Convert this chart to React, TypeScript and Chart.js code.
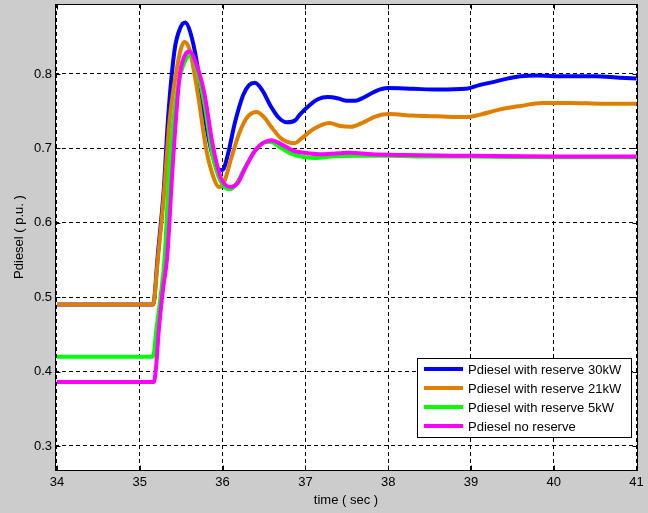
import React, { useEffect, useRef } from "react";
import { Chart, registerables } from "chart.js";

Chart.register(...registerables);

const FONT = "Arial, 'Liberation Sans', sans-serif";

const seriesLabels = [
  "Pdiesel with reserve 30kW",
  "Pdiesel with reserve 21kW",
  "Pdiesel with reserve 5kW",
  "Pdiesel no reserve",
];
const seriesColors = ["#0000ff", "#df7f00", "#00ff00", "#ff00ff"];

const blueT = [34, 35.16, 35.22, 35.29, 35.34, 35.42, 35.49, 35.55, 35.61, 35.69, 35.78, 35.88, 35.95, 36.0, 36.06, 36.15, 36.25, 36.32, 36.39, 36.48, 36.58, 36.68, 36.78, 36.88, 36.93, 37.05, 37.15, 37.27, 37.4, 37.5, 37.6, 37.7, 37.85, 38.0, 38.3, 38.6, 38.94, 39.1, 39.3, 39.45, 39.6, 39.8, 40.0, 40.5, 40.8, 41.0];
const blueV = [0.49, 0.49, 0.56, 0.645, 0.738, 0.832, 0.862, 0.869, 0.856, 0.815, 0.745, 0.69, 0.672, 0.671, 0.69, 0.735, 0.772, 0.785, 0.788, 0.778, 0.757, 0.741, 0.735, 0.738, 0.745, 0.758, 0.766, 0.769, 0.767, 0.764, 0.764, 0.768, 0.777, 0.781, 0.78, 0.779, 0.78, 0.785, 0.79, 0.794, 0.797, 0.798, 0.797, 0.797, 0.795, 0.794];

const orangeT = [34, 35.16, 35.22, 35.29, 35.34, 35.36, 35.45, 35.5, 35.54, 35.6, 35.7, 35.8, 35.9, 35.96, 36.02, 36.1, 36.2, 36.3, 36.41, 36.5, 36.6, 36.7, 36.8, 36.87, 36.95, 37.1, 37.29, 37.42, 37.55, 37.7, 37.85, 38.01, 38.3, 38.6, 38.94, 39.1, 39.34, 39.6, 39.86, 40.2, 40.6, 41.0];
const orangeV = [0.49, 0.49, 0.553, 0.635, 0.711, 0.738, 0.809, 0.835, 0.843, 0.833, 0.774, 0.7, 0.658, 0.648, 0.655, 0.685, 0.72, 0.742, 0.749, 0.742, 0.727, 0.714, 0.708, 0.707, 0.713, 0.726, 0.734, 0.73, 0.729, 0.735, 0.743, 0.746, 0.744, 0.743, 0.742, 0.745, 0.752, 0.757, 0.761, 0.761, 0.76, 0.76];

const greenT = [34, 35.16, 35.2, 35.25, 35.3, 35.36, 35.46, 35.55, 35.62, 35.68, 35.78, 35.88, 35.98, 36.08, 36.16, 36.26, 36.38, 36.48, 36.58, 36.7, 36.85, 37.0, 37.13, 37.3, 37.6, 38.0, 38.5, 39.0, 40.0, 41.0];
const greenV = [0.42, 0.42, 0.456, 0.5, 0.553, 0.68, 0.783, 0.818, 0.826, 0.81, 0.76, 0.69, 0.655, 0.645, 0.651, 0.672, 0.695, 0.707, 0.709, 0.701, 0.692, 0.688, 0.687, 0.689, 0.69, 0.69, 0.689, 0.689, 0.688, 0.688];

const magentaT = [34, 35.17, 35.2, 35.23, 35.28, 35.33, 35.4, 35.48, 35.55, 35.6, 35.66, 35.78, 35.88, 35.98, 36.1, 36.18, 36.28, 36.4, 36.5, 36.59, 36.7, 36.85, 36.99, 37.2, 37.53, 37.8, 38.2, 39.0, 40.0, 41.0];
const magentaV = [0.386, 0.386, 0.41, 0.456, 0.51, 0.553, 0.68, 0.796, 0.826, 0.83, 0.82, 0.774, 0.705, 0.66, 0.648, 0.653, 0.675, 0.698, 0.708, 0.711, 0.706, 0.697, 0.694, 0.692, 0.694, 0.692, 0.691, 0.69, 0.689, 0.689];

const xTicks = [34, 35, 36, 37, 38, 39, 40, 41];
const yTicks = [0.3, 0.4, 0.5, 0.6, 0.7, 0.8];
const xLabel = "time ( sec )";
const yLabel = "Pdiesel ( p.u. )";

const seriesT = [blueT, orangeT, greenT, magentaT];
const seriesV = [blueV, orangeV, greenV, magentaV];
const drawOrder = [4, 3, 2, 1];

const framePlugin = {
  id: "matlabFrame",
  beforeDraw(chart: any) {
    const { ctx, chartArea: a } = chart;
    ctx.save();
    ctx.fillStyle = "#ffffff";
    ctx.fillRect(a.left, a.top, a.right - a.left, a.bottom - a.top);
    ctx.restore();
  },
  afterDatasetsDraw(chart: any) {
    const { ctx, chartArea: a, scales } = chart;
    const L = Math.round(a.left) + 0.5;
    const R = Math.round(a.right) + 0.5;
    const T = Math.round(a.top) + 0.5;
    const B = Math.round(a.bottom) + 0.5;
    ctx.save();
    ctx.strokeStyle = "#000";
    ctx.lineWidth = 1;
    ctx.setLineDash([]);
    ctx.strokeRect(L, T, R - L, B - T);
    const tl = 5;
    ctx.beginPath();
    xTicks.forEach((v) => {
      const px = Math.round(scales.x.getPixelForValue(v)) + 0.5;
      ctx.moveTo(px, B);
      ctx.lineTo(px, B - tl);
      ctx.moveTo(px, T);
      ctx.lineTo(px, T + tl);
    });
    yTicks.forEach((v) => {
      const py = Math.round(scales.y.getPixelForValue(v)) + 0.5;
      ctx.moveTo(L, py);
      ctx.lineTo(L + tl, py);
      ctx.moveTo(R, py);
      ctx.lineTo(R - tl, py);
    });
    ctx.stroke();
    ctx.restore();
  },
  afterDraw(chart: any) {
    const { ctx, chartArea: a } = chart;
    const ds = chart.data.datasets;
    ctx.save();
    ctx.font = `13px ${FONT}`;
    const rowH = 19;
    const textW = Math.max(...ds.map((d: any) => ctx.measureText(d.label).width));
    const boxW = Math.round(51 + textW + 10);
    const boxH = rowH * ds.length + 3;
    const bx = Math.round(a.right - 6 - boxW);
    const by = Math.round(a.bottom - 33 - boxH);
    ctx.fillStyle = "#ffffff";
    ctx.fillRect(bx, by, boxW, boxH);
    ctx.strokeStyle = "#000";
    ctx.lineWidth = 1;
    ctx.strokeRect(bx + 0.5, by + 0.5, boxW, boxH);
    ds.forEach((d: any, i: number) => {
      const cy = by + 11 + i * rowH;
      ctx.strokeStyle = d.borderColor;
      ctx.lineWidth = 4;
      ctx.beginPath();
      ctx.moveTo(bx + 7, cy);
      ctx.lineTo(bx + 46, cy);
      ctx.stroke();
      ctx.fillStyle = "#000";
      ctx.textBaseline = "middle";
      ctx.textAlign = "left";
      ctx.fillText(d.label, bx + 51, cy + 1);
    });
    ctx.restore();
  },
};

export default function App() {
  const ref = useRef<HTMLCanvasElement | null>(null);
  useEffect(() => {
    if (!ref.current) return;
    const datasets = seriesLabels.map((label, i) => ({
      label,
      data: seriesT[i].map((t, j) => ({ x: t, y: seriesV[i][j] })),
      borderColor: seriesColors[i],
      backgroundColor: seriesColors[i],
      borderWidth: 4,
      pointRadius: 0,
      fill: false,
      cubicInterpolationMode: "monotone" as const,
      order: drawOrder[i],
    }));
    const chart = new Chart(ref.current, {
      type: "line",
      data: { datasets },
      plugins: [framePlugin],
      options: {
        responsive: false,
        animation: false,
        events: [],
        layout: { padding: { top: 4, right: 11, left: 0, bottom: 0 } },
        plugins: { legend: { display: false }, tooltip: { enabled: false } },
        scales: {
          x: {
            type: "linear",
            min: 33.976,
            max: 41.005,
            afterFit: (s: any) => {
              s.height = 43;
              s.paddingLeft = 0;
              s.paddingRight = 0;
            },
            afterBuildTicks: (s: any) => {
              s.ticks = xTicks.map((value) => ({ value }));
            },
            ticks: {
              color: "#000",
              font: { family: FONT, size: 13 },
              padding: 5,
              maxRotation: 0,
              callback: (v: any) => String(v),
            },
            grid: { color: "#000", lineWidth: 1, drawTicks: false },
            border: { display: false, dash: [4, 3] },
            title: {
              display: true,
              text: xLabel,
              color: "#000",
              font: { family: FONT, size: 13 },
              padding: { top: 0, bottom: 5 },
            },
          },
          y: {
            type: "linear",
            min: 0.2677,
            max: 0.894,
            afterFit: (s: any) => {
              s.width = 55;
              s.paddingTop = 0;
              s.paddingBottom = 0;
            },
            afterBuildTicks: (s: any) => {
              s.ticks = yTicks.map((value) => ({ value }));
            },
            ticks: {
              color: "#000",
              font: { family: FONT, size: 13 },
              padding: 3,
              callback: (v: any) => Number(v).toFixed(1),
            },
            grid: { color: "#000", lineWidth: 1, drawTicks: false },
            border: { display: false, dash: [4, 3] },
            title: {
              display: true,
              text: yLabel,
              color: "#000",
              font: { family: FONT, size: 13 },
              padding: { top: 12, bottom: 0 },
            },
          },
        },
      },
    });
    return () => chart.destroy();
  }, []);
  return (
    <div
      style={{
        position: "fixed",
        left: 0,
        top: 0,
        width: 648,
        height: 513,
        background: "#cccccc",
      }}
    >
      <canvas ref={ref} width={648} height={513} style={{ display: "block" }} />
    </div>
  );
}
